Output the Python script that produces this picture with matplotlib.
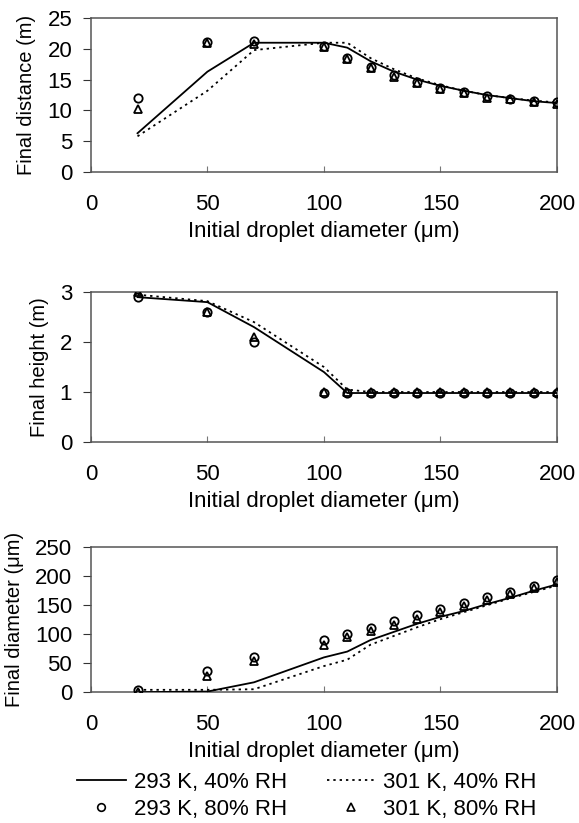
import numpy as np
from matplotlib import pyplot as plt
from matplotlib.lines import Line2D

plt.rcParams['font.family'] = ['Liberation Sans', 'DejaVu Sans']

x = [20, 50, 70, 100, 110, 120, 130, 140, 150, 160, 170, 180, 190, 200]

# final distance (m)
dist_293_40 = [6.3, 16.3, 21.0, 21.0, 20.2, 18.0, 16.3, 15.0, 14.0, 13.2, 12.5, 12.0, 11.5, 11.2]
dist_301_40 = [5.8, 13.2, 19.8, 21.0, 21.0, 18.5, 16.7, 15.2, 14.1, 13.2, 12.5, 12.0, 11.6, 11.3]
dist_293_80 = [12.0, 21.1, 21.2, 20.5, 18.5, 17.0, 15.7, 14.6, 13.7, 13.0, 12.3, 11.9, 11.5, 11.3]
dist_301_80 = [10.3, 20.9, 20.8, 20.3, 18.4, 16.9, 15.5, 14.4, 13.5, 12.8, 12.1, 11.8, 11.3, 11.1]

# final height (m)
height_293_40 = [2.9, 2.8, 2.3, 1.4, 0.98, 0.98, 0.98, 0.98, 0.98, 0.98, 0.98, 0.98, 0.98, 0.98]
height_301_40 = [2.95, 2.82, 2.4, 1.5, 1.05, 1.0, 1.0, 1.0, 1.0, 1.0, 1.0, 1.0, 1.0, 1.0]
height_293_80 = [2.9, 2.6, 2.0, 0.98, 0.98, 0.98, 0.98, 0.98, 0.98, 0.98, 0.98, 0.98, 0.98, 0.98]
height_301_80 = [3.0, 2.6, 2.1, 1.0, 1.0, 1.0, 1.0, 1.0, 1.0, 1.0, 1.0, 1.0, 1.0, 1.0]

# final diameter (um)
diam_293_40 = [0, 1, 17, 60, 70, 90, 104, 118, 130, 140, 152, 163, 175, 186]
diam_301_40 = [4, 4, 5, 45, 56, 82, 97, 112, 126, 138, 150, 162, 173, 184]
diam_293_80 = [3, 36, 60, 90, 100, 111, 123, 133, 143, 154, 164, 173, 183, 194]
diam_301_80 = [1, 27, 53, 82, 95, 105, 116, 127, 138, 149, 159, 169, 180, 190]

labels = ['293 K, 40% RH', '301 K, 40% RH', '293 K, 80% RH', '301 K, 80% RH']

fig = plt.figure(figsize=(5.79, 8.23), dpi=100)

panels = [
    ([0.157, 0.791, 0.805, 0.187], (dist_293_40, dist_301_40, dist_293_80, dist_301_80),
     'Final distance (m)', (0, 25), [0, 5, 10, 15, 20, 25]),
    ([0.157, 0.463, 0.805, 0.182], (height_293_40, height_301_40, height_293_80, height_301_80),
     'Final height (m)', (0, 3), [0, 1, 2, 3]),
    ([0.157, 0.159, 0.805, 0.176], (diam_293_40, diam_301_40, diam_293_80, diam_301_80),
     'Final diameter (μm)', (0, 250), [0, 50, 100, 150, 200, 250]),
]

dotted = (0, (1.3, 2.2))

for rect, series, ylab, ylim, yticks in panels:
    ax = fig.add_axes(rect)
    s1, s2, s3, s4 = series
    ax.plot(x, s1, color='black', lw=1.3, ls='-', zorder=3)
    ax.plot(x, s2, color='black', lw=1.3, ls=dotted, zorder=3)
    ax.plot(x, s3, ls='none', marker='o', ms=6, mfc='none', mec='black', mew=1.3, zorder=4)
    ax.plot(x, s4, ls='none', marker='^', ms=6, mfc='none', mec='black', mew=1.3, zorder=4)
    ax.set_xlim(0, 200)
    ax.set_ylim(*ylim)
    ax.set_xticks([0, 50, 100, 150, 200])
    ax.set_yticks(yticks)
    ax.tick_params(axis='x', direction='in', length=4, pad=16, labelsize=16, color='#777777')
    ax.tick_params(axis='y', direction='out', length=5.5, pad=8, labelsize=16, color='#333333')
    for sp in ax.spines.values():
        sp.set_color('#555555')
        sp.set_linewidth(1.1)
    ax.set_xlabel('Initial droplet diameter (μm)', fontsize=16, labelpad=4)
    ax.set_ylabel(ylab, fontsize=14.5, labelpad=8)

handles = [
    Line2D([], [], color='black', lw=1.3, ls='-'),
    Line2D([], [], ls='none', marker='o', ms=5.5, mfc='none', mec='black', mew=1.2),
    Line2D([], [], color='black', lw=1.3, ls=dotted),
    Line2D([], [], ls='none', marker='^', ms=5.5, mfc='none', mec='black', mew=1.2),
]
fig.legend(handles, [labels[0], labels[2], labels[1], labels[3]], ncol=2,
           loc='center', bbox_to_anchor=(0.53, 0.033), frameon=False,
           fontsize=16, handlelength=2.2, columnspacing=1.8, labelspacing=0.3,
           handletextpad=0.35, borderpad=0, borderaxespad=0)

fig.savefig('out.png', dpi=100)
